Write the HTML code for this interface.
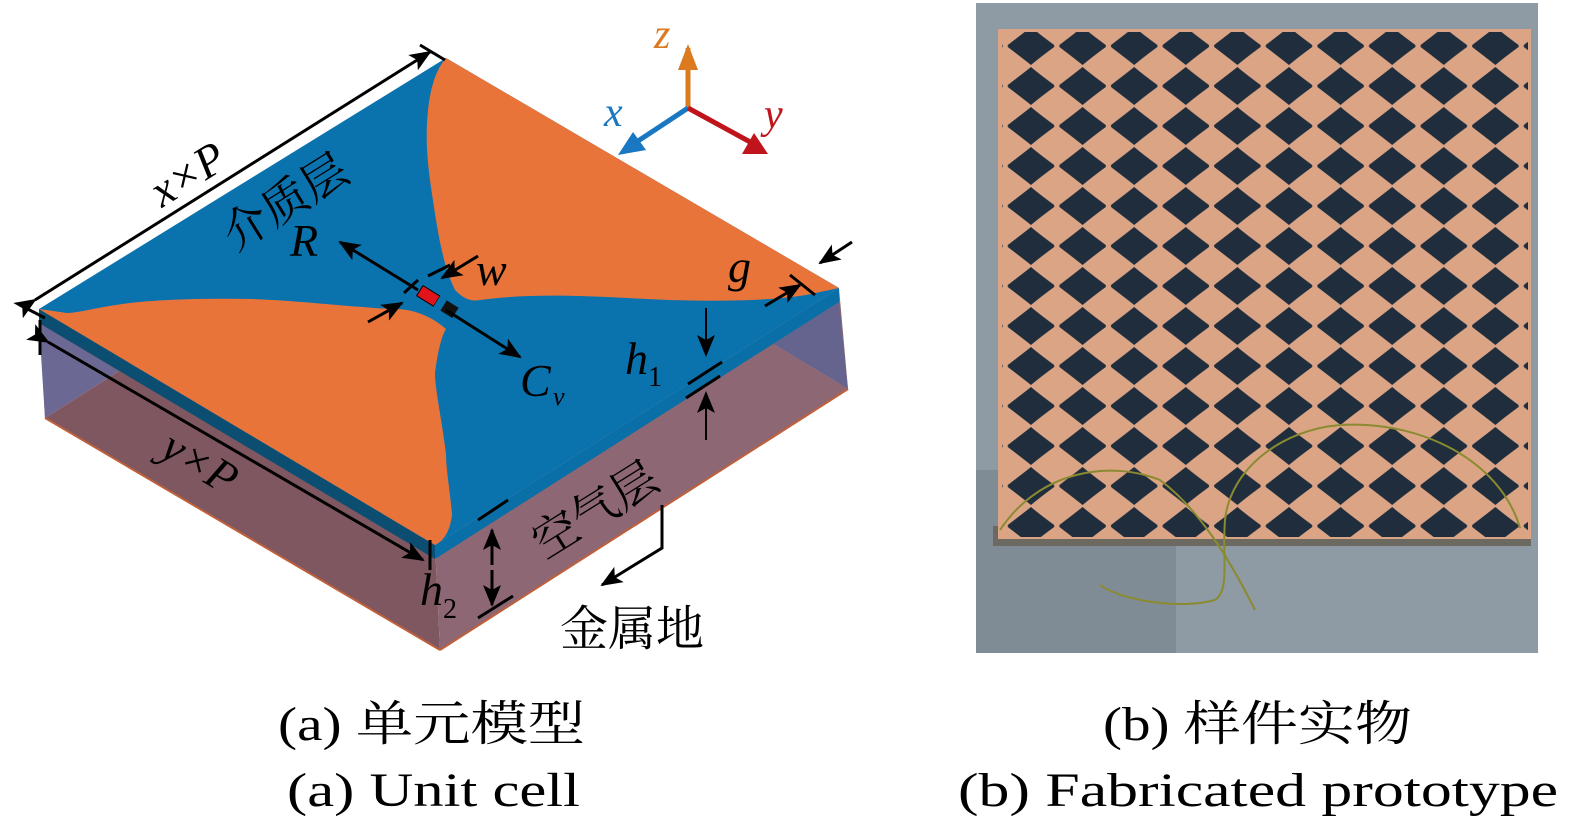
<!DOCTYPE html>
<html><head><meta charset="utf-8"><style>
html,body{margin:0;padding:0;background:#fff;}
svg{display:block}
.s{font-family:"Liberation Serif","Noto Serif CJK SC",serif;}
.i{font-family:"Liberation Serif",serif;font-style:italic;}
.n{font-family:"Liberation Serif",serif;}
</style></head><body>
<svg width="1575" height="829" viewBox="0 0 1575 829" xmlns="http://www.w3.org/2000/svg">
<defs>
<marker id="ahb" markerWidth="22" markerHeight="22" refX="20" refY="11" orient="auto" markerUnits="userSpaceOnUse" viewBox="0 0 22 22">
<path d="M0,2 L22,11 L0,20 L5,11 z" fill="#000"/></marker>
<pattern id="dia" x="1005.2" y="26" width="51.6" height="40" patternUnits="userSpaceOnUse">
<rect width="51.6" height="40" fill="#dba585"/>
<path d="M25.8,1 Q34,8 49,19 L49,21 Q34,32 25.8,39 Q17,32 2.6,21 L2.6,19 Q17,8 25.8,1 z" fill="#1f2d3d"/>
</pattern>
</defs>

<polygon points="39,309 435,545 440,650 45,418" fill="#7e5760"/>
<polygon points="435,545 839,288 848,389 440,650" fill="#8d6774"/>
<polygon points="39,323 45,418 119,371" fill="#6b6894"/>
<polygon points="839,302 848,389 773,344" fill="#65648e"/>
<line x1="45" y1="418" x2="119" y2="371" stroke="#8a6c80" stroke-width="1"/>
<line x1="848" y1="389" x2="773" y2="344" stroke="#8a6c80" stroke-width="1"/>
<line x1="45" y1="418" x2="440" y2="650" stroke="#c0603a" stroke-width="2"/>
<line x1="440" y1="650" x2="848" y2="389" stroke="#c0603a" stroke-width="2"/>
<polygon points="39,309 435,545 435,559 39,323" fill="#0b4e72"/>
<polygon points="435,545 839,288 839,302 435,559" fill="#0a6fa6"/>
<polygon points="39,309 446,58 839,288 435,545" fill="#0a72ad"/>
<path d="M446,58 L839,288 L820,292 C790,300 730,302 669,300 C600,297 540,292 480,300 C470,302 463,298 455,290 C446,272 441,250 436,220 C430,180 424,150 428,110 C431,85 436,70 446,58 z" fill="#e8743a"/>
<path d="M39,309 L435,545 C445,540 450,530 452,515 C450,490 446,470 446,454 C442,420 435,390 435,373 C438,350 442,335 446,329 C430,315 410,308 390,309 C330,305 290,300 251,299 C200,298 160,300 139,302 C100,306 80,313 67,313 z" fill="#e8743a"/>
<g transform="translate(430,297) rotate(32)">
<rect x="-12" y="-6" width="20" height="12" fill="#e0141a" stroke="#000" stroke-width="1"/>
<rect x="8" y="-6" width="8" height="12" fill="#0a72ad"/>
<rect x="16" y="-6" width="14" height="12" fill="#111"/>
</g>
<line x1="404" y1="293" x2="418" y2="280" stroke="#000" stroke-width="3"/>
<line x1="428" y1="276" x2="450" y2="265" stroke="#000" stroke-width="3"/>

<line x1="35" y1="300" x2="430" y2="52" stroke="#000" stroke-width="3" marker-start="url(#ahb)" marker-end="url(#ahb)"/>
<line x1="20" y1="305" x2="45" y2="318" stroke="#000" stroke-width="3"/>
<line x1="420" y1="45" x2="445" y2="60" stroke="#000" stroke-width="3"/>
<text class="i" transform="translate(162,208) rotate(-32)" font-size="46">x×P</text>
<text class="s" transform="translate(235,252) rotate(-32)" font-size="46">介质层</text>

<line x1="40" y1="320" x2="40" y2="355" stroke="#000" stroke-width="3"/>
<line x1="48" y1="342" x2="423" y2="560" stroke="#000" stroke-width="3" marker-start="url(#ahb)" marker-end="url(#ahb)"/>
<line x1="430" y1="540" x2="430" y2="570" stroke="#000" stroke-width="3"/>
<text class="i" transform="translate(158,455) rotate(31)" font-size="46">y×P</text>

<line x1="418" y1="290" x2="340" y2="242" stroke="#000" stroke-width="3" marker-end="url(#ahb)"/>
<text class="i" x="290" y="256" font-size="46">R</text>
<line x1="446" y1="310" x2="520" y2="357" stroke="#000" stroke-width="3" marker-end="url(#ahb)"/>
<text class="i" x="520" y="396" font-size="46">C</text>
<text class="i" x="553" y="405" font-size="26">v</text>

<line x1="478" y1="256" x2="442" y2="278" stroke="#000" stroke-width="3" marker-end="url(#ahb)"/>
<line x1="368" y1="322" x2="402" y2="303" stroke="#000" stroke-width="3" marker-end="url(#ahb)"/>
<text class="i" x="476" y="285" font-size="46">w</text>

<text class="i" x="728" y="282" font-size="46">g</text>
<line x1="765" y1="306" x2="800" y2="285" stroke="#000" stroke-width="3" marker-end="url(#ahb)"/>
<line x1="852" y1="242" x2="820" y2="263" stroke="#000" stroke-width="3" marker-end="url(#ahb)"/>
<line x1="790" y1="275" x2="815" y2="295" stroke="#000" stroke-width="3"/>

<line x1="706" y1="308" x2="706" y2="355" stroke="#000" stroke-width="2" marker-end="url(#ahb)"/>
<line x1="706" y1="440" x2="706" y2="393" stroke="#000" stroke-width="2" marker-end="url(#ahb)"/>
<line x1="688" y1="384" x2="722" y2="362" stroke="#000" stroke-width="3"/>
<line x1="686" y1="398" x2="720" y2="376" stroke="#000" stroke-width="3"/>
<text class="i" x="625" y="374" font-size="46">h</text>
<text class="n" x="648" y="386" font-size="28">1</text>

<text class="s" transform="translate(545,560) rotate(-32)" font-size="46">空气层</text>

<line x1="492" y1="565" x2="492" y2="530" stroke="#000" stroke-width="3" marker-end="url(#ahb)"/>
<line x1="492" y1="570" x2="492" y2="605" stroke="#000" stroke-width="3" marker-end="url(#ahb)"/>
<line x1="478" y1="520" x2="508" y2="500" stroke="#000" stroke-width="3"/>
<line x1="478" y1="618" x2="513" y2="596" stroke="#000" stroke-width="3"/>
<text class="i" x="420" y="605" font-size="46">h</text>
<text class="n" x="443" y="618" font-size="28">2</text>

<polyline points="662,505 662,548 602,585" fill="none" stroke="#000" stroke-width="3" marker-end="url(#ahb)"/>
<text class="s" x="560" y="645" font-size="48">金属地</text>

<line x1="688" y1="108" x2="688" y2="48" stroke="#db7a1f" stroke-width="5"/>
<polygon points="678,70 688,44 698,70" fill="#db7a1f"/>
<line x1="688" y1="108" x2="632" y2="145" stroke="#1a78c2" stroke-width="5"/>
<polygon points="618,155 633,132 646,150" fill="#1a78c2"/>
<line x1="688" y1="108" x2="752" y2="143" stroke="#c0141c" stroke-width="5"/>
<polygon points="768,154 742,154 754,133" fill="#c0141c"/>
<text class="i" x="654" y="48" font-size="42" fill="#db7a1f">z</text>
<text class="i" x="604" y="126" font-size="42" fill="#1a78c2">x</text>
<text class="i" x="764" y="128" font-size="42" fill="#c0141c">y</text>

<rect x="976" y="3" width="562" height="650" fill="#8e9ba4"/>
<rect x="976" y="470" width="200" height="183" fill="#7f8c96"/>
<rect x="993" y="526" width="538" height="20" fill="#6c6a60"/>
<rect x="998" y="29" width="533" height="510" fill="#dba585"/>
<rect x="1002" y="32" width="526" height="505" fill="url(#dia)"/>
<path d="M1000,530 C1040,470 1110,460 1160,480 C1200,510 1230,560 1255,610" fill="none" stroke="#8a8a30" stroke-width="2"/>
<path d="M1520,528 C1500,460 1420,420 1340,425 C1280,430 1230,470 1225,520 C1222,560 1230,590 1215,600 C1180,610 1120,600 1100,585" fill="none" stroke="#8a8a30" stroke-width="2"/>

<text class="s" x="278" y="740" textLength="307" lengthAdjust="spacingAndGlyphs" font-size="48">(a) 单元模型</text>
<text class="n" x="287" y="806" textLength="293" lengthAdjust="spacingAndGlyphs" font-size="48">(a) Unit cell</text>
<text class="s" x="1103" y="740" textLength="309" lengthAdjust="spacingAndGlyphs" font-size="48">(b) 样件实物</text>
<text class="n" x="958" y="806" textLength="600" lengthAdjust="spacingAndGlyphs" font-size="48">(b) Fabricated prototype</text>
</svg>
</body></html>
